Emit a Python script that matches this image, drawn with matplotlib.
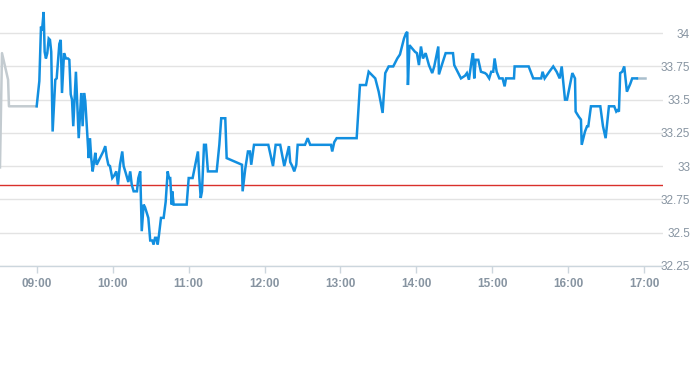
import numpy as np
import matplotlib
matplotlib.use("Agg")
from matplotlib import pyplot as plt

# minutes after 09:00 and price
pre_min = [-29.0, -27.4, -22.6, -21.9, 0.0]
pre_px = [32.99, 33.85, 33.65, 33.45, 33.45]

day_min = [0.0, 2.1, 3.4, 4.2, 5.5, 6.3, 7.3, 8.4, 9.5, 10.5,
           11.5, 12.6, 14.7, 15.8, 17.9, 19.0, 20.0, 21.6, 23.1, 24.7,
           25.8, 26.9, 27.9, 28.9, 31.0, 33.2, 35.2, 36.3, 37.4, 38.4,
           41.1, 42.1, 43.1, 44.2, 45.3, 46.3, 47.4, 50.0, 52.6, 54.2,
           55.3, 56.6, 57.9, 59.7, 61.3, 62.9, 64.2, 65.8, 67.6, 68.7,
           70.3, 72.4, 73.9, 75.1, 76.6, 79.2, 80.3, 81.8, 83.0, 84.5,
           85.6, 86.6, 88.2, 89.7, 91.3, 92.4, 93.5, 94.5, 95.6, 96.6,
           98.2, 100.3, 101.9, 103.5, 104.5, 105.5, 106.7, 107.1, 108.2, 118.5,
           120.1, 123.2, 125.3, 127.4, 128.5, 129.6, 130.6, 132.2, 133.7, 135.3,
           142.2, 144.3, 145.8, 149.0, 150.1, 162.2, 162.7, 164.8, 166.9, 168.5,
           169.5, 171.7, 183.0, 186.7, 188.8, 192.4, 195.6, 199.3, 200.3, 201.9,
           203.5, 205.1, 206.2, 212.0, 214.1, 216.1, 232.5, 233.5, 235.1, 237.0,
           252.8, 254.4, 255.4, 260.2, 262.3, 267.5, 270.2, 271.8, 273.3, 275.4,
           278.1, 281.7, 284.9, 287.0, 288.6, 290.2, 291.8, 292.8, 293.3, 294.5,
           296.3, 298.9, 300.4, 302.0, 303.6, 305.2, 307.3, 309.9, 312.5, 314.1,
           317.3, 317.8, 320.4, 323.1, 328.9, 329.9, 332.0, 333.6, 335.2, 338.4,
           339.9, 341.5, 343.7, 344.7, 345.7, 346.8, 348.9, 351.0, 354.2, 355.5,
           357.5, 359.1, 360.7, 361.8, 363.4, 365.5, 368.1, 369.7, 370.8, 377.1,
           377.6, 388.7, 392.3, 398.6, 399.7, 401.3, 405.0, 408.1, 410.8, 413.2,
           414.8, 417.4, 419.0, 423.2, 425.3, 425.8, 428.4, 430.0, 430.6, 433.2,
           434.8, 435.8, 437.9, 445.3, 447.4, 449.5, 452.1, 456.3, 457.9, 459.0,
           460.0, 461.0, 462.6, 464.2, 466.3, 469.0, 470.5, 474.2]
day_px = [33.45, 33.64, 34.05, 34.02, 34.16, 33.86, 33.81, 33.85, 33.96, 33.95,
          33.86, 33.26, 33.65, 33.66, 33.92, 33.95, 33.55, 33.85, 33.81, 33.81,
          33.80, 33.54, 33.50, 33.30, 33.71, 33.21, 33.55, 33.30, 33.55, 33.49,
          33.06, 33.21, 33.06, 32.96, 33.03, 33.10, 33.01, 33.06, 33.11, 33.15,
          33.07, 33.01, 33.00, 32.91, 32.93, 32.96, 32.86, 33.01, 33.11, 33.00,
          32.95, 32.88, 32.96, 32.86, 32.81, 32.81, 32.91, 32.96, 32.51, 32.71,
          32.69, 32.66, 32.61, 32.44, 32.44, 32.41, 32.46, 32.46, 32.41, 32.48,
          32.61, 32.61, 32.73, 32.96, 32.91, 32.91, 32.71, 32.81, 32.71, 32.71,
          32.91, 32.91, 33.01, 33.11, 32.91, 32.76, 32.81, 33.16, 33.16, 32.96,
          32.96, 33.16, 33.36, 33.36, 33.06, 33.01, 32.81, 32.98, 33.11, 33.11,
          33.01, 33.16, 33.16, 33.00, 33.16, 33.16, 33.00, 33.15, 33.03, 33.00,
          32.96, 33.01, 33.16, 33.16, 33.21, 33.16, 33.16, 33.11, 33.18, 33.21,
          33.21, 33.46, 33.61, 33.61, 33.71, 33.66, 33.56, 33.48, 33.40, 33.70,
          33.75, 33.75, 33.81, 33.84, 33.90, 33.96, 34.00, 34.01, 33.61, 33.91,
          33.89, 33.86, 33.85, 33.76, 33.90, 33.81, 33.85, 33.76, 33.70, 33.75,
          33.90, 33.69, 33.77, 33.85, 33.85, 33.76, 33.72, 33.69, 33.66, 33.68,
          33.70, 33.65, 33.80, 33.85, 33.66, 33.80, 33.80, 33.71, 33.70, 33.69,
          33.66, 33.71, 33.71, 33.81, 33.71, 33.66, 33.66, 33.60, 33.66, 33.66,
          33.75, 33.75, 33.66, 33.66, 33.71, 33.66, 33.71, 33.75, 33.71, 33.66,
          33.75, 33.50, 33.50, 33.70, 33.66, 33.41, 33.37, 33.35, 33.16, 33.26,
          33.30, 33.30, 33.45, 33.45, 33.30, 33.21, 33.45, 33.45, 33.41, 33.42,
          33.41, 33.70, 33.71, 33.75, 33.56, 33.62, 33.66, 33.66]

post_min = [474.2, 480.5]
post_px = [33.66, 33.66]

prev_close = 32.86

y_ticks = [32.25, 32.5, 32.75, 33, 33.25, 33.5, 33.75, 34]
y_labels = ["32.25", "32.5", "32.75", "33", "33.25", "33.5", "33.75", "34"]
x_hours = [9, 10, 11, 12, 13, 14, 15, 16, 17]
x_labels = ["09:00", "10:00", "11:00", "12:00", "13:00", "14:00", "15:00", "16:00", "17:00"]


def to_h(mins):
    return 9 + np.array(mins) / 60.0


plt.rcParams['font.family'] = ['Liberation Sans', 'DejaVu Sans']

fig = plt.figure(figsize=(6.93, 3.65), dpi=100)
ax = fig.add_axes([0.0, 0.272, 0.9567, 0.728])

ax.set_xlim(8.517, 17.247)
ax.set_ylim(32.25, 34.25)

for v in y_ticks:
    ax.axhline(v, color="#e3e3e3", lw=1.0, zorder=0)
ax.axhline(prev_close, color="#d9302b", lw=1.0, zorder=1)

ax.plot(to_h(pre_min), pre_px, color="#c3cbd0", lw=1.8, zorder=2)
ax.plot(to_h(day_min), day_px, color="#128fe0", lw=1.8, zorder=3,
        solid_joinstyle="miter")
ax.plot(to_h(post_min), post_px, color="#a9bfcd", lw=1.8, zorder=2)

for s in ["top", "left", "right"]:
    ax.spines[s].set_visible(False)
ax.spines["bottom"].set_color("#ccd6dd")
ax.spines["bottom"].set_linewidth(1.0)

ax.set_xticks(x_hours)
ax.set_xticklabels(x_labels, fontweight="bold")
ax.tick_params(axis="x", colors="#ccd6dd", length=5, width=1, labelsize=8.5,
               labelcolor="#8794a1", pad=4)

ax.yaxis.tick_right()
ax.set_yticks(y_ticks)
ax.set_yticklabels(y_labels)
ax.tick_params(axis="y", length=0, labelsize=8.5, labelcolor="#8794a1", pad=19.5)
for lab in ax.get_yticklabels():
    lab.set_horizontalalignment("right")

fig.savefig("out.png", dpi=100)
